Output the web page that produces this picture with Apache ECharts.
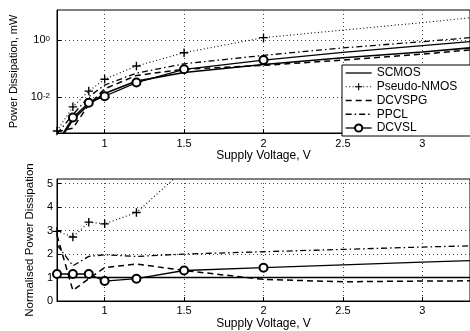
<!DOCTYPE html>
<html>
<head>
<meta charset="utf-8">
<script src="https://cdn.jsdelivr.net/npm/echarts@6/dist/echarts.min.js"></script>
<style>
  html, body { margin: 0; padding: 0; background: #fff; }
  #chart { width: 470px; height: 331px; }
</style>
</head>
<body>
<div id="chart"></div>
<script>
// supply voltage, V
const voltage = [0.7, 0.8, 0.9, 1.0, 1.2, 1.5, 2.0, 2.5, 3.0, 3.3];
const seriesNames = ['SCMOS', 'Pseudo-NMOS', 'DCVSPG', 'PPCL', 'DCVSL'];

// power dissipation, mW (top plot, log axis)
const scmosPower  = [2.3e-4, 0.0017, 0.0057, 0.0137, 0.037, 0.074, 0.14, 0.24, 0.38, 0.53];
const pseudoPower = [6.8e-4, 0.0047, 0.0166, 0.043, 0.124, 0.36, 1.2, 2.2, 4.0, 5.9];
const dcvspgPower = [6.4e-4, 8.5e-4, 0.0056, 0.020, 0.058, 0.096, 0.13, 0.20, 0.32, 0.45];
const ppclPower   = [5.5e-4, 0.0025, 0.0105, 0.027, 0.070, 0.148, 0.29, 0.53, 0.87, 1.2];
const dcvslPower  = [2.6e-4, 0.0020, 0.0065, 0.011, 0.033, 0.095, 0.20, 0.37, 0.63, 0.88];

// normalised power dissipation (bottom plot)
const scmosNorm  = [1, 1, 1, 1, 1, 1, 1, 1, 1, 1];
const pseudoNorm = [2.97, 2.73, 3.36, 3.29, 3.77, 5.6, 8.6, 9.2, 10.5, 11.1];
const dcvspgNorm = [2.8, 0.45, 0.95, 1.42, 1.58, 1.3, 0.92, 0.82, 0.85, 0.86];
const ppclNorm   = [2.4, 1.5, 1.9, 1.97, 1.9, 2.0, 2.1, 2.2, 2.3, 2.35];
const dcvslNorm  = [1.15, 1.15, 1.15, 0.85, 0.95, 1.3, 1.42, 1.54, 1.66, 1.72];

// tick labels
const voltTicks = [1, 1.5, 2, 2.5, 3];
const powerTicks = [0.01, 1];
const normTicks = [0, 1, 2, 3, 4, 5];

// markers only drawn up to this voltage
const markedUpTo = 2.0;

const plus = 'path://M4.2,0h1.6v4.2h4.2v1.6h-4.2v4.2h-1.6v-4.2h-4.2v-1.6h4.2z';
const styles = {
  'SCMOS':       { type: 'solid', width: 1.6, symbol: 'none' },
  'Pseudo-NMOS': { type: [1, 2.5], width: 1.1, symbol: plus, size: 8.5, border: 0 },
  'DCVSPG':      { type: [6, 4], width: 1.5, symbol: 'none' },
  'PPCL':        { type: [6, 3, 1.5, 3], width: 1.3, symbol: 'none' },
  'DCVSL':       { type: 'solid', width: 1.3, symbol: 'emptyCircle', size: 8, border: 1.1 }
};

function makeSeries(name, values, idx) {
  const st = styles[name];
  return {
    type: 'line',
    name: name,
    xAxisIndex: idx,
    yAxisIndex: idx,
    symbol: st.symbol,
    symbolSize: st.size || 6,
    showSymbol: st.symbol !== 'none',
    clip: true,
    silent: true,
    data: voltage.map((v, i) => v <= markedUpTo ? [v, values[i]] : { value: [v, values[i]], symbol: 'none' }),
    lineStyle: { color: '#000', width: st.width, type: st.type },
    itemStyle: { color: '#000', borderColor: '#000', borderWidth: st.border || 0 }
  };
}

const font = "'Liberation Sans', Arial, sans-serif";
const gridLine = { show: true, lineStyle: { color: '#444', width: 1, type: [1, 3] } };

function xAxisFor(idx, margin) {
  return {
    type: 'value', gridIndex: idx, min: 0.7, max: 3.3,
    name: 'Supply Voltage, V', nameLocation: 'middle', nameGap: 17,
    nameTextStyle: { color: '#000', fontSize: 12, fontFamily: font },
    axisLine: { lineStyle: { color: '#000', width: 1 } },
    axisTick: { inside: true, length: 4, customValues: voltTicks, lineStyle: { color: '#000' } },
    axisLabel: { customValues: voltTicks, margin: margin, color: '#000', fontSize: 11, fontFamily: font },
    splitLine: gridLine
  };
}

const legendItems = seriesNames.map(n => ({
  name: n,
  lineStyle: { color: '#000', type: styles[n].type, width: Math.min(styles[n].width, 1.3) },
  itemStyle: styles[n].symbol === 'none' ? { opacity: 0 } : { color: '#000', borderColor: '#000' }
}));

const chart = echarts.init(document.getElementById('chart'));
chart.setOption({
  animation: false,
  backgroundColor: '#fff',
  grid: [
    { left: 57, top: 10, right: -6, height: 123, show: true, borderColor: '#000', borderWidth: 1 },
    { left: 57, top: 179, right: -6, height: 122, show: true, borderColor: '#000', borderWidth: 1 }
  ],
  xAxis: [xAxisFor(0, 5), xAxisFor(1, 4)],
  yAxis: [
    {
      type: 'log', gridIndex: 0, logBase: 10, min: 5.8e-4, max: 11,
      name: 'Power Dissipation, mW', nameLocation: 'middle', nameGap: 33,
      nameTextStyle: { color: '#000', fontSize: 11, fontFamily: font },
      axisLine: { lineStyle: { color: '#000', width: 1 } },
      axisTick: { inside: true, length: 4, customValues: powerTicks, lineStyle: { color: '#000' } },
      axisLabel: {
        customValues: powerTicks, margin: 7, color: '#000', fontSize: 11, fontFamily: font,
        formatter: v => '10{e|' + Math.round(Math.log10(v)) + '}',
        rich: { e: { fontSize: 8, fontFamily: font, color: '#000', verticalAlign: 'top', lineHeight: 8 } }
      },
      splitLine: gridLine
    },
    {
      type: 'value', gridIndex: 1, min: 0, max: 5.2,
      name: 'Normalised Power Dissipation', nameLocation: 'middle', nameGap: 14,
      nameTextStyle: { color: '#000', fontSize: 11.5, fontFamily: font },
      axisLine: { lineStyle: { color: '#000', width: 1 } },
      axisTick: { inside: true, length: 4, customValues: normTicks, lineStyle: { color: '#000' } },
      axisLabel: { customValues: normTicks, margin: 4, color: '#000', fontSize: 11, fontFamily: font },
      splitLine: gridLine
    }
  ],
  legend: {
    data: legendItems,
    orient: 'vertical',
    left: 342, top: 65,
    padding: [2, 40, 2, 3],
    itemWidth: 26, itemHeight: 9, itemGap: 1.75,
    borderColor: '#000', borderWidth: 1, borderRadius: 0,
    backgroundColor: '#fff',
    textStyle: { color: '#000', fontSize: 12, lineHeight: 11, fontFamily: font },
    selectedMode: false
  },
  series: [
    makeSeries('SCMOS', scmosPower, 0),
    makeSeries('Pseudo-NMOS', pseudoPower, 0),
    makeSeries('DCVSPG', dcvspgPower, 0),
    makeSeries('PPCL', ppclPower, 0),
    makeSeries('DCVSL', dcvslPower, 0),
    makeSeries('SCMOS', scmosNorm, 1),
    makeSeries('Pseudo-NMOS', pseudoNorm, 1),
    makeSeries('DCVSPG', dcvspgNorm, 1),
    makeSeries('PPCL', ppclNorm, 1),
    makeSeries('DCVSL', dcvslNorm, 1)
  ]
});
</script>
</body>
</html>
